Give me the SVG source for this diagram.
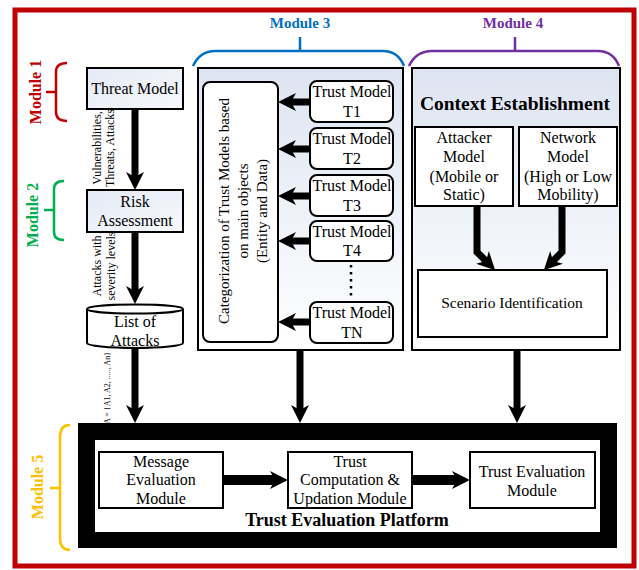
<svg xmlns="http://www.w3.org/2000/svg" width="639" height="570" viewBox="0 0 639 570" font-family="'Liberation Serif', 'DejaVu Serif', 'Times New Roman', serif">
<defs>
<linearGradient id="g" x1="0" y1="0" x2="0" y2="1">
<stop offset="0" stop-color="#dde4f1"/>
<stop offset="1" stop-color="#ffffff"/>
</linearGradient>
<linearGradient id="gs" x1="0" y1="0" x2="1" y2="1">
<stop offset="0" stop-color="#e4e9f4"/>
<stop offset="1" stop-color="#f7f9fc"/>
</linearGradient>
<marker id="ah" markerUnits="userSpaceOnUse" markerWidth="18" markerHeight="18" refX="5" refY="9" orient="auto">
<path d="M0,0 L18,9 L0,18 L5,9 Z" fill="#000"/>
</marker>
</defs>
<style>
text{font-family:'Liberation Serif','DejaVu Serif','Times New Roman',serif;font-size:16px;fill:#000;text-anchor:middle}
.b{font-weight:bold}
.box{stroke:#000;stroke-width:2;fill:#fff}
.gbox{stroke:#000;stroke-width:2;fill:url(#g)}
.sbox{stroke:#000;stroke-width:2;fill:url(#gs)}
.arr{stroke:#000;stroke-width:7;fill:none;marker-end:url(#ah)}
.arrw{stroke:#000;stroke-width:10;fill:none;marker-end:url(#ah)}
.brace{fill:none;stroke-width:2.5}
.lbl{font-size:12px}
</style>
<rect x="15" y="10" width="619" height="556" fill="#fff" stroke="#C00000" stroke-width="5"/>

<g id="module1">
<path class="brace" stroke="#C00000" d="M67,63 Q56,63 56,72 V112 Q56,121 67,121 M46,92 H56"/>
<text class="b" style="fill:#C00000" transform="translate(41,92) rotate(-90)">Module 1</text>
</g>
<g id="module2">
<path class="brace" stroke="#00B050" d="M64,181 Q54,181 54,189 V232 Q54,240 64,240 M44,210 H54"/>
<text class="b" style="fill:#00B050" transform="translate(38,215) rotate(-90)">Module 2</text>
</g>
<g id="module3label">
<path class="brace" stroke="#0070C0" d="M193,66 Q200,51 215,51 H383 Q398,51 404,66 M300,37 V51"/>
<text class="b" style="fill:#0070C0;font-size:15px" x="300" y="28">Module 3</text>
</g>
<g id="module4label">
<path class="brace" stroke="#7030A0" d="M409,66 Q416,51 432,51 H598 Q613,51 619,66 M515,37 V51"/>
<text class="b" style="fill:#7030A0;font-size:15px" x="513" y="28">Module 4</text>
</g>
<g id="module5">
<path class="brace" stroke="#FFC000" d="M70,425 Q60,425 60,437 V538 Q60,550 70,550 M50,488 H60"/>
<text class="b" style="fill:#FFC000" transform="translate(43,487) rotate(-90)">Module 5</text>
</g>

<g id="threat-model">
<rect class="sbox" x="87" y="68" width="96" height="41"/>
<text x="135" y="94">Threat Model</text>
</g>
<g id="risk-assessment">
<rect class="sbox" x="87" y="190" width="96" height="42"/>
<text x="135" y="207">Risk</text>
<text x="135" y="226">Assessment</text>
</g>
<g id="list-of-attacks">
<path class="box" d="M87,309 A48,4.5 0 0 1 183,309 V343 A48,5 0 0 1 87,343 Z"/>
<path d="M87,309 A48,4.5 0 0 0 183,309" fill="none" stroke="#000" stroke-width="2"/>
<text x="135" y="327">List of</text>
<text x="135" y="346">Attacks</text>
</g>

<g id="module3">
<rect class="gbox" x="198" y="68" width="205" height="282"/>
<g id="categorization">
<rect class="box" x="203" y="82" width="75" height="260" rx="7"/>
<text style="font-size:15px" transform="translate(229,211) rotate(-90)">Categorization of Trust Models based</text>
<text style="font-size:15px" transform="translate(248,211) rotate(-90)">on main objects</text>
<text style="font-size:15px" transform="translate(267,211) rotate(-90)">(Entity and Data)</text>
</g>
<g id="tm1"><rect class="box" x="310" y="81" width="83" height="41" rx="7"/><text x="352" y="97">Trust Model</text><text x="352" y="117">T1</text></g>
<g id="tm2"><rect class="box" x="310" y="128" width="83" height="41" rx="7"/><text x="352" y="144">Trust Model</text><text x="352" y="164">T2</text></g>
<g id="tm3"><rect class="box" x="310" y="175" width="83" height="41" rx="7"/><text x="352" y="191">Trust Model</text><text x="352" y="211">T3</text></g>
<g id="tm4"><rect class="box" x="310" y="221" width="83" height="40" rx="7"/><text x="352" y="237">Trust Model</text><text x="352" y="256">T4</text></g>
<g id="tmn"><rect class="box" x="310" y="302" width="83" height="41" rx="7"/><text x="352" y="318">Trust Model</text><text x="352" y="338">TN</text></g>
<line x1="351" y1="265" x2="351" y2="300" stroke="#000" stroke-width="2.5" stroke-dasharray="2.5 4.5"/>
</g>

<g id="module4">
<rect class="gbox" x="412" y="68" width="208" height="282"/>
<text class="b" style="font-size:19.5px" x="515" y="110">Context Establishment</text>
<g id="attacker-model">
<rect class="box" x="415" y="127" width="98" height="79"/>
<text x="464" y="143">Attacker</text><text x="464" y="162">Model</text><text x="464" y="182">(Mobile or</text><text x="464" y="200">Static)</text>
</g>
<g id="network-model">
<rect class="box" x="519" y="127" width="98" height="79"/>
<text x="568" y="143">Network</text><text x="568" y="162">Model</text><text x="568" y="182">(High or Low</text><text x="568" y="200">Mobility)</text>
</g>
<g id="scenario">
<rect class="box" x="418" y="270" width="189" height="67"/>
<text style="font-size:15.5px" x="512" y="308">Scenario Identification</text>
</g>
</g>

<g id="platform">
<rect x="78" y="423" width="539" height="125" fill="#000"/>
<rect x="95" y="440" width="505" height="92" fill="#fff"/>
<g id="message-eval"><rect class="box" x="99" y="452" width="124" height="56"/><text x="161" y="467">Message</text><text x="161" y="485">Evaluation</text><text x="161" y="504">Module</text></g>
<g id="trust-comp"><rect class="box" x="288" y="452" width="124" height="56"/><text x="350" y="467">Trust</text><text x="350" y="485">Computation &amp;</text><text x="350" y="504">Updation Module</text></g>
<g id="trust-eval"><rect class="box" x="470" y="452" width="125" height="56"/><text x="532" y="477">Trust Evaluation</text><text x="532" y="496">Module</text></g>
<text class="b" style="font-size:18px" x="347" y="526">Trust Evaluation Platform</text>
</g>

<g id="connectors">
<path class="arr" d="M135,109 V177"/>
<path class="arr" d="M135,232 V291"/>
<path class="arr" d="M135,348 V410"/>
<path class="arr" d="M300,350 V410"/>
<path class="arr" d="M517,350 V410"/>
<path class="arr" d="M310,102 H291"/>
<path class="arr" d="M310,149 H291"/>
<path class="arr" d="M310,196 H291"/>
<path class="arr" d="M310,241 H291"/>
<path class="arr" d="M310,322 H291"/>
<path class="arr" d="M477,206 V252 L486,261"/>
<path class="arr" d="M562,206 V252 L553,261"/>
<path class="arrw" d="M223,480 H275"/>
<path class="arrw" d="M412,480 H457"/>
<text class="lbl" transform="translate(101,148) rotate(-90)">Vulnerabilities,</text>
<text class="lbl" transform="translate(114,148) rotate(-90)">Threats, Attacks</text>
<text class="lbl" transform="translate(101,266) rotate(-90)">Attacks with</text>
<text class="lbl" transform="translate(115,266) rotate(-90)">severity levels</text>
<text style="font-size:8px" transform="translate(110,388) rotate(-90)">A = {A1, A2, ....., An}</text>
</g>
</svg>
